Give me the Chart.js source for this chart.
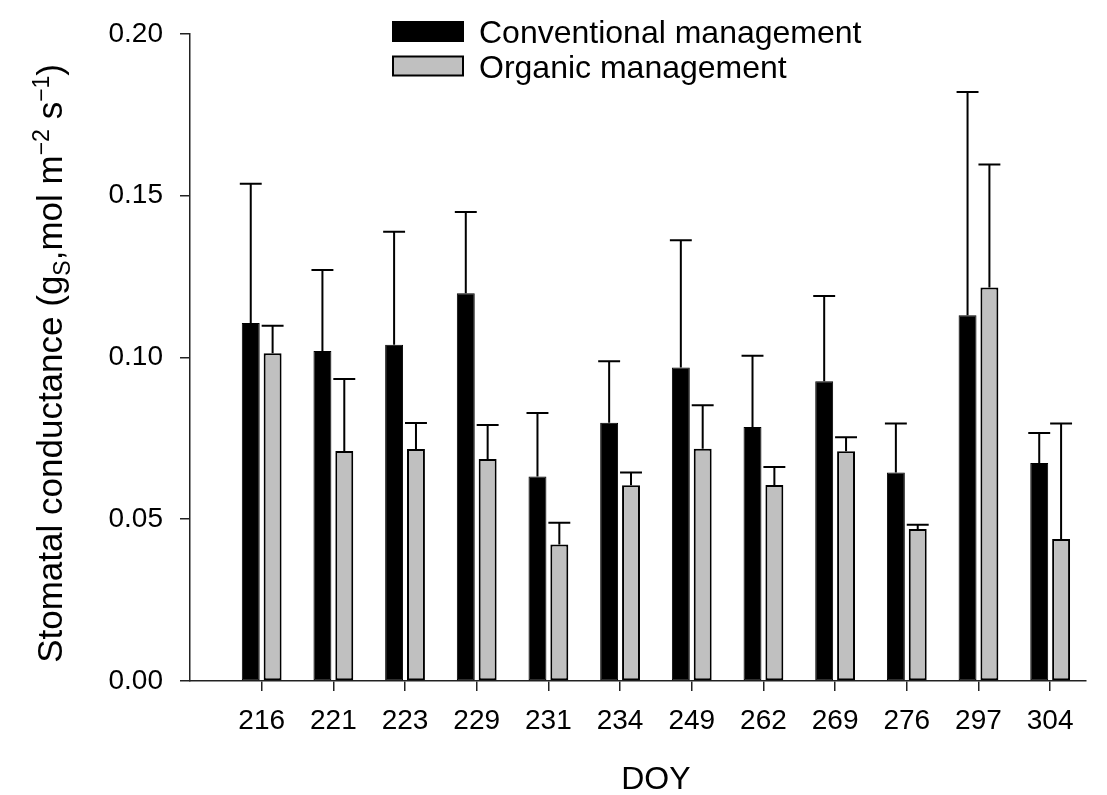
<!DOCTYPE html>
<html>
<head>
<meta charset="utf-8">
<script src="https://cdn.jsdelivr.net/npm/chart.js@4/dist/chart.umd.min.js"></script>
<style>
  body { margin: 0; background: #fff; }
  #wrap { width: 1107px; height: 795px; }
</style>
</head>
<body>
<div id="wrap"><canvas id="gsChart" width="1107" height="795"></canvas></div>
<script>
// DOY categories and stomatal conductance means / standard errors
var doy = ['216', '221', '223', '229', '231', '234', '249', '262', '269', '276', '297', '304'];
var conventional = [0.1106, 0.1020, 0.1039, 0.1198, 0.0632, 0.0798, 0.0969, 0.0785, 0.0926, 0.0644, 0.1130, 0.0674];
var conventionalErr = [0.0431, 0.0250, 0.0349, 0.0251, 0.0196, 0.0190, 0.0393, 0.0220, 0.0264, 0.0152, 0.0690, 0.0092];
var organic = [0.1013, 0.0711, 0.0717, 0.0686, 0.0422, 0.0605, 0.0718, 0.0606, 0.0710, 0.0470, 0.1216, 0.0439];
var organicErr = [0.0085, 0.0222, 0.0080, 0.0105, 0.0067, 0.0039, 0.0134, 0.0055, 0.0043, 0.0013, 0.0380, 0.0357];
var yTicks = [0, 0.05, 0.10, 0.15, 0.20];

var FONT = "'Liberation Sans', Arial, sans-serif";
Chart.defaults.font.family = FONT;
Chart.defaults.color = '#000';

function toPoints(vals){
  var out = [];
  for (var i = 0; i < vals.length; i++) out.push({x: i + 1, y: vals[i]});
  return out;
}

// upper error bars (mean + SE), drawn from each bar's own geometry
var errorBars = {
  id: 'errorBars',
  afterDatasetsDraw: function(chart){
    var ctx = chart.ctx, ys = chart.scales.y;
    ctx.save();
    ctx.strokeStyle = '#000';
    ctx.lineWidth = 2;
    chart.data.datasets.forEach(function(ds, di){
      var meta = chart.getDatasetMeta(di);
      meta.data.forEach(function(bar, i){
        var top = ys.getPixelForValue(ds.data[i].y + ds.errors[i]);
        var half = bar.width / 2 + 2;
        ctx.beginPath();
        ctx.moveTo(bar.x, bar.y);
        ctx.lineTo(bar.x, top);
        ctx.moveTo(bar.x - half, top);
        ctx.lineTo(bar.x + half, top);
        ctx.stroke();
      });
    });
    ctx.restore();
  }
};

// legend stacked in two rows over the top of the plot
var boxLegend = {
  id: 'boxLegend',
  afterDraw: function(chart){
    var ctx = chart.ctx;
    ctx.save();
    ctx.font = '32px ' + FONT;
    ctx.textBaseline = 'alphabetic';
    chart.data.datasets.forEach(function(ds, i){
      var y = 22 + i * 34.5;
      ctx.fillStyle = ds.backgroundColor;
      ctx.fillRect(393, y, 70, 19);
      ctx.strokeStyle = '#000';
      ctx.lineWidth = 2;
      ctx.strokeRect(393, y, 70, 19);
      ctx.fillStyle = '#000';
      ctx.fillText(ds.label, 479, y + 21);
    });
    ctx.restore();
  }
};

// axis titles: rotated y title with sub/superscripts, DOY centred under the tick labels
var axisTitles = {
  id: 'axisTitles',
  afterDraw: function(chart){
    var ctx = chart.ctx, a = chart.chartArea, xs = chart.scales.x;
    var parts = [
      {t: 'Stomatal conductance (g', s: 35, dy: 0},
      {t: 'S', s: 23, dy: 8},
      {t: ',mol m', s: 35, dy: 0},
      {t: '\u22122', s: 23, dy: -13},
      {t: ' s', s: 35, dy: 0},
      {t: '\u22121', s: 23, dy: -13},
      {t: ')', s: 35, dy: 0}
    ];
    ctx.save();
    ctx.fillStyle = '#000';
    ctx.textBaseline = 'alphabetic';
    var total = 0;
    parts.forEach(function(p){ ctx.font = p.s + 'px ' + FONT; p.w = ctx.measureText(p.t).width; total += p.w; });
    ctx.translate(62, (a.top + a.bottom) / 2 + 6);
    ctx.rotate(-Math.PI / 2);
    var x = -total / 2;
    parts.forEach(function(p){
      ctx.font = p.s + 'px ' + FONT;
      ctx.fillText(p.t, x, p.dy);
      x += p.w;
    });
    ctx.restore();

    ctx.save();
    ctx.fillStyle = '#000';
    ctx.font = '32px ' + FONT;
    ctx.textAlign = 'center';
    ctx.textBaseline = 'alphabetic';
    var cx = (xs.getPixelForValue(1) + xs.getPixelForValue(doy.length)) / 2;
    ctx.fillText('DOY', cx, 789);
    ctx.restore();
  }
};

new Chart(document.getElementById('gsChart'), {
  type: 'bar',
  data: {
    datasets: [{
      label: 'Conventional management',
      data: toPoints(conventional),
      errors: conventionalErr,
      backgroundColor: '#000000',
      borderColor: '#000000',
      borderWidth: 1,
      borderSkipped: false
    }, {
      label: 'Organic management',
      data: toPoints(organic),
      errors: organicErr,
      backgroundColor: '#c0c0c0',
      borderColor: '#000000',
      borderWidth: 2,
      borderSkipped: false
    }]
  },
  options: {
    responsive: false,
    animation: false,
    categoryPercentage: 0.61,
    barPercentage: 0.82,
    layout: { padding: { top: 28, right: 21, left: 0, bottom: 0 } },
    plugins: {
      legend: { display: false },
      tooltip: { enabled: false }
    },
    scales: {
      x: {
        type: 'linear',
        min: 0,
        max: 12.5,
        offset: false,
        afterBuildTicks: function(scale){
          scale.ticks = doy.map(function(d, i){ return {value: i + 1}; });
        },
        afterFit: function(scale){ scale.height = 114; },
        ticks: {
          autoSkip: false,
          maxRotation: 0,
          padding: 13,
          font: { size: 28 },
          color: '#000',
          callback: function(v){ return doy[v - 1]; }
        },
        grid: { offset: false, drawOnChartArea: false, drawTicks: true, tickLength: 10, color: '#222', lineWidth: 1.5 },
        border: { display: true, color: '#222', width: 1.5 }
      },
      y: {
        min: 0,
        max: 0.2,
        afterBuildTicks: function(scale){
          scale.ticks = yTicks.map(function(v){ return {value: v}; });
        },
        afterFit: function(scale){ scale.width = 190; },
        ticks: {
          padding: 17,
          font: { size: 28 },
          color: '#000',
          callback: function(v){ return v.toFixed(2); }
        },
        grid: { drawOnChartArea: false, drawTicks: true, tickLength: 10, color: '#222', lineWidth: 1.5 },
        border: { display: true, color: '#222', width: 1.5 }
      }
    }
  },
  plugins: [errorBars, boxLegend, axisTitles]
});
</script>
</body>
</html>
